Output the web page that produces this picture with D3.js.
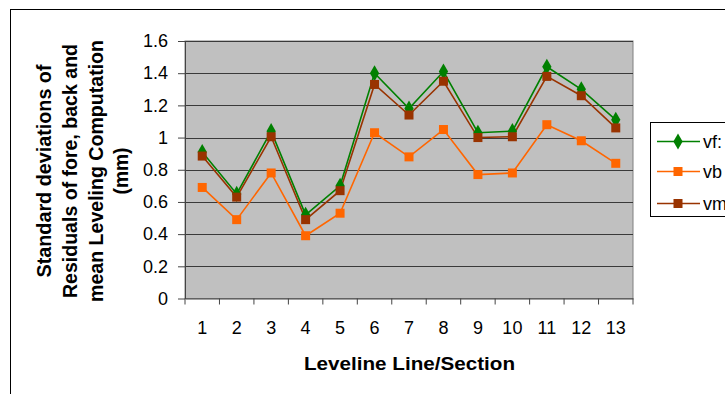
<!DOCTYPE html>
<html><head><meta charset="utf-8">
<script src="https://cdn.jsdelivr.net/npm/d3@7"></script>
<style>body{margin:0;background:#fff;} svg{display:block;font-family:Arial,"Liberation Sans",sans-serif;}</style>
</head><body>
<script>
const categories = ["1","2","3","4","5","6","7","8","9","10","11","12","13"];
const vf = [0.91,0.65,1.04,0.52,0.70,1.40,1.18,1.41,1.03,1.04,1.44,1.30,1.11];
const vb = [0.69,0.49,0.78,0.39,0.53,1.03,0.88,1.05,0.77,0.78,1.08,0.98,0.84];
const vm = [0.885,0.63,1.005,0.49,0.67,1.33,1.14,1.35,1.00,1.005,1.38,1.26,1.06];
const yTicks = [0,0.2,0.4,0.6,0.8,1,1.2,1.4,1.6];
const seriesNames = ["vf:","vb","vm"];
const colors = ["#008000","#ff6600","#993300"];

const W=725,H=394;
const FONT="Arial,'Liberation Sans',sans-serif";
const svg=d3.select("body").append("svg").attr("width",W).attr("height",H);
svg.append("rect").attr("x",10.5).attr("y",9.5).attr("width",900).attr("height",600).attr("fill","#fff").attr("stroke","#000");

const L=185,R=633,T=41,B=298.5;
const x=d3.scaleBand().domain(categories).range([L,R]);
const y=d3.scaleLinear().domain([0,1.6]).range([B,T]);

svg.append("rect").attr("x",L).attr("y",T).attr("width",R-L).attr("height",B-T).attr("fill","#c0c0c0").attr("stroke","#808080");
svg.append("g").selectAll("line").data(yTicks.filter(d=>d>0)).join("line")
  .attr("x1",L).attr("x2",R).attr("y1",d=>Math.round(y(d))+0.5).attr("y2",d=>Math.round(y(d))+0.5)
  .attr("stroke","#3a3a3a").attr("stroke-width",1);

const ya=svg.append("g").attr("transform",`translate(${L},0)`)
  .call(d3.axisLeft(y).tickValues(yTicks).tickFormat(d3.format("~g")).tickSize(7).tickSizeOuter(0).tickPadding(10));
ya.select(".domain").attr("stroke","#444");
ya.selectAll(".tick line").attr("stroke","#444");
ya.selectAll("text").attr("font-size",18).attr("fill","#000").attr("font-family",FONT);

const xa=svg.append("g").attr("transform",`translate(0,${B})`)
  .call(d3.axisBottom(x).tickSize(0).tickSizeOuter(0).tickPadding(22.7));
xa.select(".domain").attr("stroke","#444");
xa.selectAll("text").attr("font-size",18).attr("fill","#000").attr("font-family",FONT);
svg.append("g").selectAll("line").data(d3.range(categories.length+1)).join("line")
  .attr("x1",i=>L+i*x.step()).attr("x2",i=>L+i*x.step()).attr("y1",B).attr("y2",B+6).attr("stroke","#444");

const data=[vf,vb,vm];
const line=d3.line().x((d,i)=>x(categories[i])+x.bandwidth()/2).y(d=>y(d));
data.forEach((s,k)=>{
  svg.append("path").datum(s).attr("d",line).attr("fill","none").attr("stroke",colors[k]).attr("stroke-width",1.6);
});
function marker(g,k,cx,cy){
  if(k===0){
    g.append("path").attr("d",d3.symbol(d3.symbolDiamond,75)()).attr("transform",`translate(${cx},${cy})`).attr("fill",colors[k]);
  } else {
    g.append("rect").attr("x",cx-4.5).attr("y",cy-4.5).attr("width",9).attr("height",9).attr("fill",colors[k]);
  }
}
[0,1,2].forEach(k=>{
  const g=svg.append("g");
  data[k].forEach((d,i)=>marker(g,k,x(categories[i])+x.bandwidth()/2,y(d)));
});

// legend
svg.append("rect").attr("x",650.5).attr("y",122.5).attr("width",120).attr("height",94).attr("fill","#fff").attr("stroke","#000");
const ly=[141.5,171.5,203.5];
seriesNames.forEach((n,k)=>{
  svg.append("line").attr("x1",657).attr("x2",700).attr("y1",ly[k]).attr("y2",ly[k]).attr("stroke",colors[k]).attr("stroke-width",1.6);
  marker(svg,k,678,ly[k]);
  svg.append("text").attr("x",703).attr("y",ly[k]).attr("dy","0.36em").attr("font-size",18).text(n);
});

// axis titles
svg.append("text").attr("x",(L+R)/2+0.5).attr("y",370).attr("text-anchor","middle")
  .attr("font-size",18.5).attr("font-weight","bold").attr("textLength",211).attr("lengthAdjust","spacingAndGlyphs")
  .text("Leveline Line/Section");
const yt=svg.append("text").attr("transform","translate(0,171) rotate(-90)").attr("text-anchor","middle")
  .attr("font-size",19.5).attr("font-weight","bold");
const ytLines=["Standard deviations of","Residuals of fore, back and","mean Leveling Computation","(mm)"];
const ytBase=[50.7,76.7,102.7,127.5];
const ytLen=[213,254,262,47];
ytLines.forEach((t,i)=>{
  yt.append("tspan").attr("x",0).attr("y",ytBase[i]).attr("textLength",ytLen[i]).attr("lengthAdjust","spacingAndGlyphs").text(t);
});
</script>
</body></html>
